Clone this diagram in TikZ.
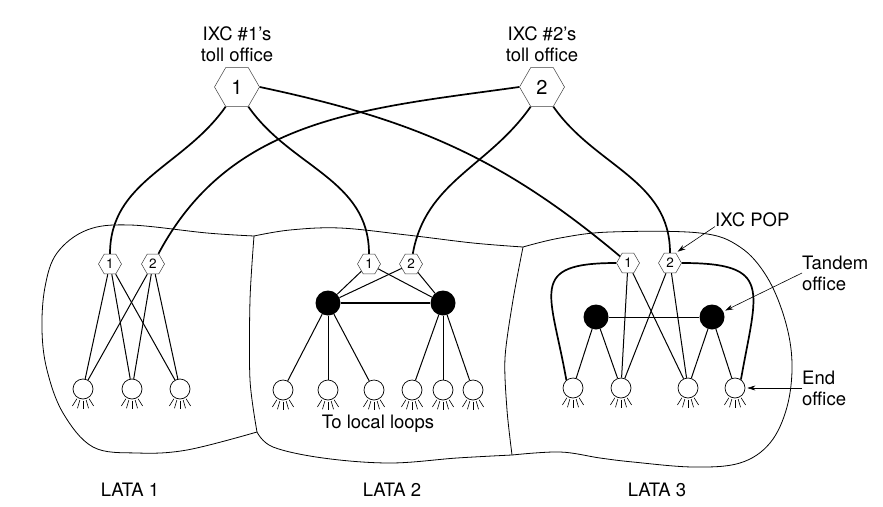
\documentclass[tikz,border=0pt]{standalone}
\usepackage{fontspec}
\setmainfont{TeX Gyre Heros}
\usetikzlibrary{shapes.geometric,arrows.meta}

\begin{document}
\begin{tikzpicture}[x=1pt,y=1pt,
            TollStyle/.style={regular polygon,regular polygon sides=6,draw=black!75,line width=0.5pt,
              fill=white,minimum size=45pt,inner sep=0pt,font=\fontsize{20}{20}\selectfont},
            PopStyle/.style={TollStyle,minimum size=23pt,font=\fontsize{13.5}{13.5}\selectfont},
            TandemStyle/.style={circle,fill=black,minimum size=25pt,inner sep=0pt},
            EndStyle/.style={circle,draw,line width=0.7pt,fill=white,minimum size=20pt,inner sep=0pt},
            TrunkStyle/.style={line width=1.7pt},
            LineStyle/.style={line width=1pt},
            FootStyle/.style={line width=0.6pt},
            OutlineStyle/.style={line width=0.8pt},
            NoteStyle/.style={font=\fontsize{18.5}{21}\selectfont,align=left,inner sep=0pt},
            PtrStyle/.style={line width=0.6pt,-{Stealth[length=8pt,width=5pt]},shorten >=2pt}]
            \useasboundingbox (0,0) rectangle (883,-506);

            % LATA outlines
            \draw[OutlineStyle] plot[smooth,tension=0.6] coordinates {(254,-236) (207,-233) (130,-225) (87,-230)
              (57,-253) (45,-287) (42,-330) (47,-370) (63,-413) (93,-447) (137,-453) (187,-450) (257,-432)};
            \draw[OutlineStyle] plot[smooth] coordinates {(254,-236) (250,-300) (250,-380) (257,-432)};
            \draw[OutlineStyle] plot[smooth,tension=0.6] coordinates {(254,-236) (290,-230) (340,-228) (407,-235)
              (473,-243) (523,-247)};
            \draw[OutlineStyle] plot[smooth,tension=0.6] coordinates {(257,-432) (273,-447) (323,-458) (390,-463)
              (457,-458) (512,-455)};
            \draw[OutlineStyle] plot[smooth] coordinates {(523,-247) (513,-300) (505,-358) (507,-410) (512,-455)};
            \draw[OutlineStyle] plot[smooth,tension=0.6] coordinates {(523,-247) (560,-238) (610,-232) (700,-233)
              (740,-247) (767,-277) (785,-320) (792,-363) (787,-407) (770,-443) (740,-463) (693,-467)
              (633,-462) (600,-458) (560,-452) (512,-455)};

            % toll offices
            \node[TollStyle] (t1) at (237,-87) {1};
            \node[TollStyle] (t2) at (542,-87) {2};
            \node[NoteStyle,align=center,anchor=south] (t1lbl) at (237,-62) {IXC \#1's\\toll office};
            \node[NoteStyle,align=center,anchor=south] (t2lbl) at (542,-62) {IXC \#2's\\toll office};

            % POPs
            \node[PopStyle] (a1) at (110,-264) {1};
            \node[PopStyle] (a2) at (153,-264) {2};
            \node[PopStyle] (b1) at (369,-264) {1};
            \node[PopStyle] (b2) at (411,-264) {2};
            \node[PopStyle] (c1) at (628,-263) {1};
            \node[PopStyle] (c2) at (670,-263) {2};

            % tandem offices
            \node[TandemStyle] (bt1) at (328,-303) {};
            \node[TandemStyle] (bt2) at (443,-303) {};
            \node[TandemStyle] (ct1) at (596,-317) {};
            \node[TandemStyle] (ct2) at (712,-317) {};

            % end offices
            \node[EndStyle] (ae1) at (83,-389) {};
            \node[EndStyle] (ae2) at (132,-389) {};
            \node[EndStyle] (ae3) at (180,-389) {};
            \node[EndStyle] (be1) at (283,-390) {};
            \node[EndStyle] (be2) at (328,-390) {};
            \node[EndStyle] (be3) at (374,-390) {};
            \node[EndStyle] (be4) at (412,-390) {};
            \node[EndStyle] (be5) at (443,-390) {};
            \node[EndStyle] (be6) at (473,-390) {};
            \node[EndStyle] (ce1) at (573,-388) {};
            \node[EndStyle] (ce2) at (621,-388) {};
            \node[EndStyle] (ce3) at (688,-388) {};
            \node[EndStyle] (ce4) at (735,-388) {};

            \foreach \n in {ae1,ae2,ae3,be1,be2,be3,be4,be5,be6,ce1,ce2,ce3,ce4}
              \foreach \a in {238,254,270,286,302}
                \draw[FootStyle] (\n) ++(\a:11.5) -- ++(\a:8.5);

            % trunks
            \draw[TrunkStyle] (t1.240) to[out=-125,in=90] (a1);
            \draw[TrunkStyle] (t1.300) to[out=-55,in=90] (b1);
            \draw[TrunkStyle] (t1.0) to[out=-12,in=140] (c1);
            \draw[TrunkStyle] (t2.180) to[out=188,in=62] (a2);
            \draw[TrunkStyle] (t2.240) to[out=-125,in=80] (b2);
            \draw[TrunkStyle] (t2.300) to[out=-55,in=90] (c2);

            % LATA 1
            \foreach \p in {a1,a2}
              \foreach \e in {ae1,ae2,ae3}
                \draw[LineStyle] (\p) -- (\e);

            % LATA 2
            \foreach \p in {b1,b2}
              \foreach \t in {bt1,bt2}
                \draw[LineStyle] (\p) -- (\t);
            \draw[line width=1.6pt] (bt1) -- (bt2);
            \foreach \e in {be1,be2,be3}
              \draw[LineStyle] (bt1) -- (\e);
            \foreach \e in {be4,be5,be6}
              \draw[LineStyle] (bt2) -- (\e);

            % LATA 3
            \foreach \p in {c1,c2}
              \foreach \e in {ce2,ce3}
                \draw[LineStyle] (\p) -- (\e);
            \draw[LineStyle] (ct1) -- (ct2);
            \draw[LineStyle] (ct1) -- (ce1);
            \draw[LineStyle] (ct1) -- (ce2);
            \draw[LineStyle] (ct2) -- (ce3);
            \draw[LineStyle] (ct2) -- (ce4);
            \draw[TrunkStyle] (c1.west) to[out=180,in=100,looseness=1.8] (ce1.130);
            \draw[TrunkStyle] (c2.east) to[out=0,in=80,looseness=1.8] (ce4.55);

            % labels
            \node[NoteStyle,anchor=base] (loops) at (378,-428) {To local loops};
            \node[NoteStyle,anchor=base] (lata1) at (130,-496) {LATA 1};
            \node[NoteStyle,anchor=base] (lata2) at (392,-496) {LATA 2};
            \node[NoteStyle,anchor=base] (lata3) at (657,-496) {LATA 3};
            \node[NoteStyle,anchor=base west] (pop) at (715,-226) {IXC POP};
            \node[NoteStyle,anchor=west] (tand) at (802,-273) {Tandem\\office};
            \node[NoteStyle,anchor=west] (endo) at (802,-388) {End\\office};

            \draw[PtrStyle] (pop.south west) -- (c2.60);
            \draw[PtrStyle] (tand.west) -- (ct2);
            \draw[PtrStyle] (endo.west) -- (ce4);
\end{tikzpicture}
\end{document}
